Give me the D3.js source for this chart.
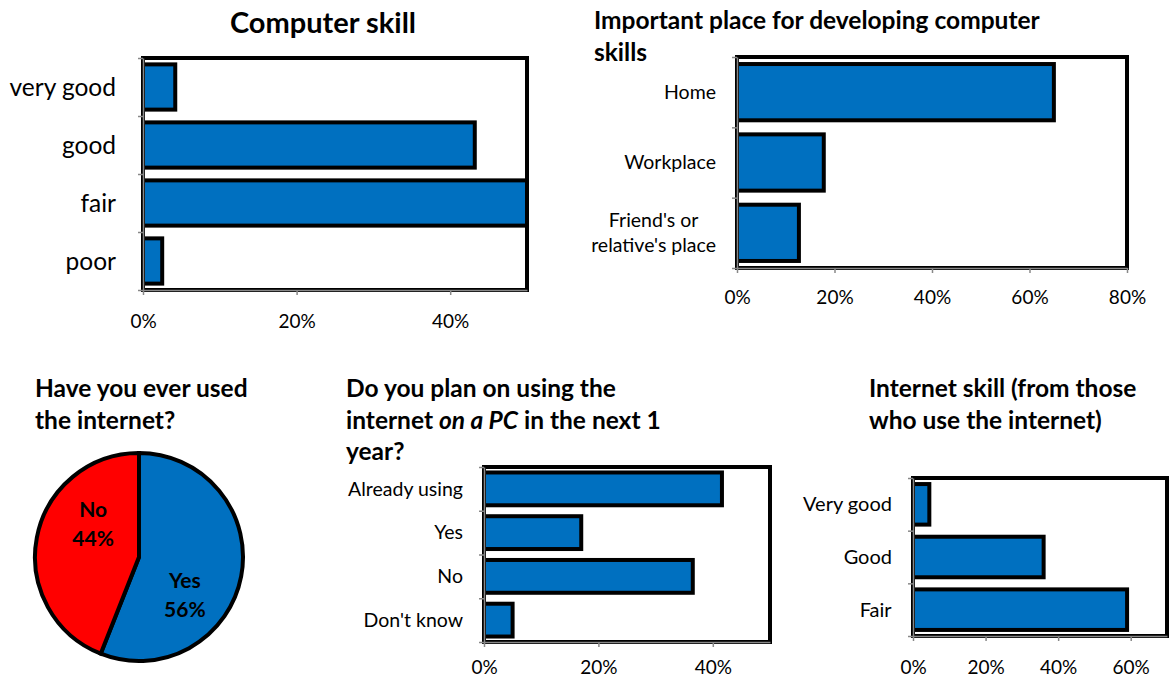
<!DOCTYPE html>
<html>
<head>
<meta charset="utf-8">
<script src="https://cdn.jsdelivr.net/npm/d3@7"></script>
<style>
  body { margin: 0; background: #fff; }
  svg { font-family: Lato, "Open Sans", sans-serif; }
</style>
</head>
<body>
<svg id="chart" width="1169" height="681"></svg>
<script>
// chart values (percent)
const skillCats = ["very good", "good", "fair", "poor"];
const skillVals = [4.2, 43.2, 50, 2.5];

const placeCats = ["Home", "Workplace", "Friend's or relative's place"];
const placeVals = [65, 17.8, 12.7];

const usedCats = ["Yes", "No"];
const usedVals = [56, 44];

const planCats = ["Already using", "Yes", "No", "Don't know"];
const planVals = [41.6, 17, 36.5, 5];

const netCats = ["Very good", "Good", "Fair"];
const netVals = [4.5, 36, 59];

// labels that break on two lines
const labelLines = { "Friend's or relative's place": ["Friend's or", "relative's place"] };

const blue = "#0070c0", red = "#ff0000";
const svg = d3.select("#chart");

// draws one horizontal bar chart inside the box [left,right] x [top,bottom]
function barChart(cats, vals, o) {
  const g = svg.append("g");
  const x = d3.scaleLinear().domain([0, o.xmax]).range([o.left, o.right]);
  const y = d3.scaleBand().domain(cats).range([o.top, o.bottom]).paddingInner(o.pad).paddingOuter(o.pad / 2);

  // plot area frame
  g.append("rect")
    .attr("x", o.left).attr("y", o.top)
    .attr("width", o.right - o.left).attr("height", o.bottom - o.top)
    .attr("fill", "none").attr("stroke", "#000").attr("stroke-width", 4);

  // bars
  g.selectAll("rect.bar")
    .data(cats)
    .join("rect")
      .attr("class", "bar")
      .attr("x", x(0))
      .attr("y", d => y(d))
      .attr("width", (d, i) => x(vals[i]) - x(0))
      .attr("height", y.bandwidth())
      .attr("fill", blue)
      .attr("stroke", "#000")
      .attr("stroke-width", 4);

  // left axis: grey line with ticks between categories
  const yb = d3.scaleLinear().domain([0, cats.length]).range([o.top, o.bottom]);
  g.append("g")
    .attr("transform", `translate(${o.left},0)`)
    .call(d3.axisLeft(yb).tickValues(d3.range(cats.length + 1)).tickFormat("").tickSizeInner(5).tickSizeOuter(0))
    .call(a => a.selectAll("line,path").attr("stroke", "#888").attr("stroke-width", 1.5));

  // bottom axis
  g.append("g")
    .attr("transform", `translate(0,${o.bottom})`)
    .call(d3.axisBottom(x).tickValues(o.ticks).tickFormat(d => d + "%").tickSizeInner(5).tickSizeOuter(0).tickPadding(o.tickPad))
    .call(a => a.selectAll("line,path").attr("stroke", "#888").attr("stroke-width", 1.5))
    .call(a => a.selectAll("text").attr("font-size", 19).attr("fill", "#000").attr("font-family", "Lato, sans-serif"));

  // category labels
  cats.forEach(c => {
    const lines = labelLines[c] || [c];
    const cy = y(c) + y.bandwidth() / 2;
    const lh = o.catFont * 1.25;
    const t = g.append("text")
      .attr("font-size", o.catFont)
      .attr("fill", "#000");
    lines.forEach((l, i) => {
      t.append("tspan")
        .attr("x", 0)
        .attr("y", cy + (i - (lines.length - 1) / 2) * lh)
        .attr("dy", "0.35em")
        .text(l);
    });
    // centre multi-line blocks, right edge at labelRight
    const w = t.node().getBBox().width;
    t.attr("text-anchor", "middle").selectAll("tspan").attr("x", o.labelRight - w / 2);
  });
}

function title(lines, x, y0, lh, size, anchor) {
  lines.forEach((parts, i) => {
    const t = svg.append("text")
      .attr("x", x).attr("y", y0 + i * lh)
      .attr("font-size", size).attr("font-weight", "bold")
      .attr("text-anchor", anchor || "start");
    (Array.isArray(parts) ? parts : [parts]).forEach(p => {
      const s = typeof p === "string" ? { t: p } : p;
      t.append("tspan").attr("font-style", s.i ? "italic" : "normal").text(s.t);
    });
  });
}

// --- Computer skill
title(["Computer skill"], 323, 33, 0, 29, "middle");
barChart(skillCats, skillVals, {
  left: 143, right: 527, top: 58, bottom: 290, xmax: 50, ticks: [0, 20, 40],
  pad: 0.22, catFont: 24.5, labelRight: 116, tickPad: 20
});

// --- Important place
title(["Important place for developing computer", "skills"], 594, 29, 32, 24.5);
barChart(placeCats, placeVals, {
  left: 737, right: 1127, top: 57, bottom: 268, xmax: 80, ticks: [0, 20, 40, 60, 80],
  pad: 0.2, catFont: 19.5, labelRight: 716, tickPad: 18
});

// --- Pie: have you ever used the internet
title(["Have you ever used", "the internet?"], 35, 397, 31.5, 24.5);
const pieData = d3.pie().sort(null).value(d => d)(usedVals);
const arc = d3.arc().innerRadius(0).outerRadius(104);
const labelArc = d3.arc().innerRadius(58).outerRadius(58);
const pg = svg.append("g").attr("transform", "translate(139,557)");
pg.selectAll("path")
  .data(pieData)
  .join("path")
    .attr("d", arc)
    .attr("fill", (d, i) => i === 0 ? blue : red)
    .attr("stroke", "#000")
    .attr("stroke-width", 4);
pieData.forEach((d, i) => {
  const c = labelArc.centroid({ startAngle: d.startAngle + 0.47, endAngle: d.endAngle + 0.47 });
  const t = pg.append("text")
    .attr("text-anchor", "middle")
    .attr("font-size", 21).attr("font-weight", "bold");
  t.append("tspan").attr("x", c[0]).attr("y", c[1] - 12).attr("dy", "0.35em").text(usedCats[i]);
  t.append("tspan").attr("x", c[0]).attr("y", c[1] + 17).attr("dy", "0.35em").text(usedVals[i] + "%");
});

// --- Plan on using the internet
title([
  "Do you plan on using the",
  ["internet ", { t: "on a PC", i: true }, " in the next 1"],
  "year?"
], 346, 397, 31.5, 24.5);
barChart(planCats, planVals, {
  left: 484, right: 770, top: 467, bottom: 642, xmax: 50, ticks: [0, 20, 40],
  pad: 0.25, catFont: 19.5, labelRight: 463, tickPad: 14
});

// --- Internet skill
title(["Internet skill (from those", "who use the internet)"], 869, 397, 31.5, 24.5);
barChart(netCats, netVals, {
  left: 913, right: 1167, top: 478, bottom: 636, xmax: 70, ticks: [0, 20, 40, 60],
  pad: 0.23, catFont: 20, labelRight: 892, tickPad: 20
});
</script>
</body>
</html>
